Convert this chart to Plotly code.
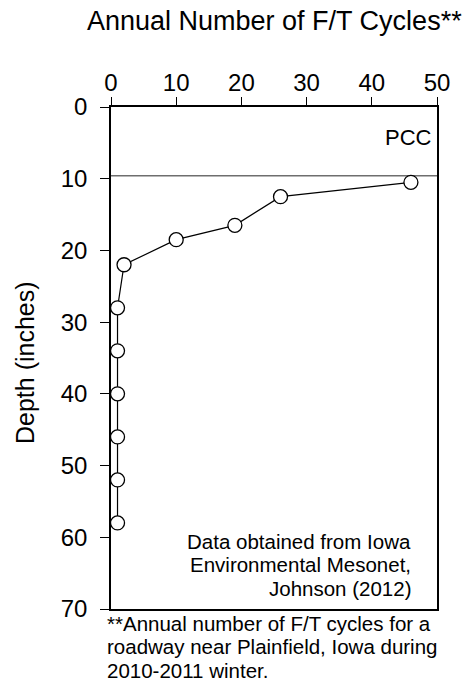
import plotly.graph_objects as go

cycles = [46, 26, 19, 10, 2, 1, 1, 1, 1, 1, 1]
depth = [10.5, 12.5, 16.5, 18.5, 22, 28, 34, 40, 46, 52, 58]
pcc_depth = 9.6
x_ticks = [0, 10, 20, 30, 40, 50]
y_ticks = [0, 10, 20, 30, 40, 50, 60, 70]
note_lines = ["Data obtained from Iowa", "Environmental Mesonet,", "Johnson (2012)"]
foot_lines = ["**Annual number of F/T cycles for a",
              "roadway near Plainfield, Iowa during",
              "2010-2011 winter."]

FONT = "Liberation Sans, Arial, sans-serif"

fig = go.Figure()
fig.add_trace(go.Scatter(
    x=cycles, y=depth, mode="lines+markers",
    line=dict(color="black", width=1.2),
    marker=dict(symbol="circle", size=14, color="white",
                line=dict(color="black", width=1.3)),
    showlegend=False, cliponaxis=False,
))

fig.add_shape(type="line", xref="paper", x0=0, x1=1, yref="y", y0=pcc_depth, y1=pcc_depth,
              line=dict(color="#6e6e6e", width=1.5), layer="below")

annotations = [
    dict(text="Annual Number of F/T Cycles**", xref="paper", yref="paper",
         x=0.5, y=1, yshift=86, xanchor="center", yanchor="middle",
         showarrow=False, font=dict(size=27)),
    dict(text="Depth (inches)", xref="paper", yref="paper", x=0, y=0.5,
         xshift=-86, yshift=-5, textangle=-90, xanchor="center", yanchor="middle",
         showarrow=False, font=dict(size=25)),
    dict(text="PCC", xref="x", yref="y", x=49.5, y=4.3, xanchor="right",
         yanchor="middle", showarrow=False, font=dict(size=22)),
]
for i, t in enumerate(note_lines):
    annotations.append(dict(text=t, xref="paper", yref="paper", x=1, y=0,
                            xshift=-24, yshift=68 - 23.5 * i, xanchor="right",
                            yanchor="middle", showarrow=False, font=dict(size=20.5)))
for i, t in enumerate(foot_lines):
    annotations.append(dict(text=t, xref="paper", yref="paper", x=0, y=0,
                            xshift=-6, yshift=-14 - 23.5 * i,
                            xanchor="left", yanchor="middle", showarrow=False,
                            font=dict(size=20.5)))

fig.update_layout(
    width=462, height=690,
    margin=dict(l=111, r=25, t=107, b=81),
    paper_bgcolor="white", plot_bgcolor="white",
    font=dict(family=FONT, color="black", size=20),
    xaxis=dict(range=[0, 50], side="top", tickvals=x_ticks, ticks="outside", ticklen=8,
               tickwidth=1.3, tickcolor="black", showline=True, linecolor="black",
               linewidth=1.5, mirror=True, showgrid=False, zeroline=False,
               tickfont=dict(size=24), ticklabelstandoff=-3),
    yaxis=dict(range=[70, 0], tickvals=y_ticks, ticks="outside", ticklen=9,
               tickwidth=1.3, tickcolor="black", showline=True, linecolor="black",
               linewidth=1.5, mirror=True, showgrid=False, zeroline=False,
               tickfont=dict(size=24), ticklabelstandoff=8),
    annotations=annotations,
)

fig.write_html("out.html")
